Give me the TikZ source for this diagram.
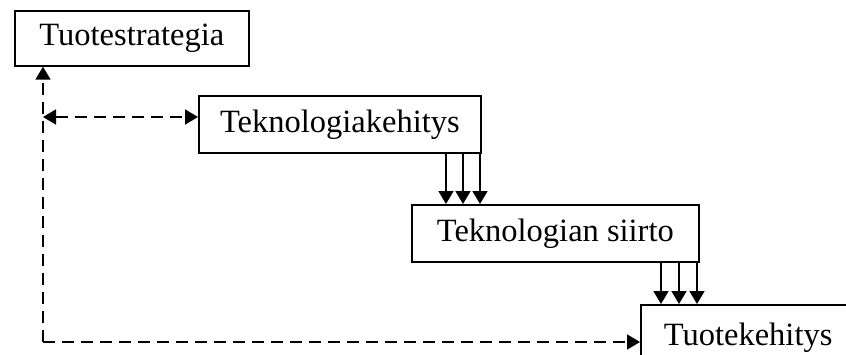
\documentclass[tikz,border=0pt]{standalone}
\usepackage{fontspec}
\setmainfont{Liberation Serif}
\usetikzlibrary{arrows.meta}
\begin{document}
\begin{tikzpicture}[x=1pt,y=-1pt,
  box/.style={draw,line width=1.7pt,rectangle,inner sep=0pt,anchor=north west,font=\fontsize{32.5}{38}\selectfont},
  conn/.style={line width=1.7pt,-{Triangle[length=13pt,width=15pt]}},
  dconn/.style={conn,dash pattern=on 12pt off 7pt}]
\useasboundingbox (0,0) rectangle (846,354);
\clip (0,0) rectangle (846,354);
\node[box,minimum width=234pt,minimum height=55pt] (ts) at (14,10) {Tuotestrategia};
\node[box,minimum width=282pt,minimum height=57pt] (tkh) at (198,95) {Teknologiakehitys};
\node[box,minimum width=287pt,minimum height=57pt] (tsi) at (411,204) {Teknologian siirto};
\node[box,text width=230pt,align=left,inner xsep=23pt,minimum height=70pt,text depth=11pt] (tke) at (640,304) {Tuotekehitys};
\coordinate (corner) at (43,342);
\coordinate (mid) at (43,117);
% dashed links
\draw[dconn] (corner) -- (ts.south -| corner);
\draw[dconn] (corner) -- (tke.west |- corner);
\draw[dconn,{Triangle[length=13pt,width=15pt]}-{Triangle[length=13pt,width=15pt]}] (mid) -- (tkh.west |- mid);
% triple arrows
\foreach \xx in {446,463,480}{
  \draw[conn] (tkh.south -| {(\xx,0)}) -- (tsi.north -| {(\xx,0)});
}
\foreach \xx in {661,679,697}{
  \draw[conn] (tsi.south -| {(\xx,0)}) -- (tke.north -| {(\xx,0)});
}
\end{tikzpicture}
\end{document}
